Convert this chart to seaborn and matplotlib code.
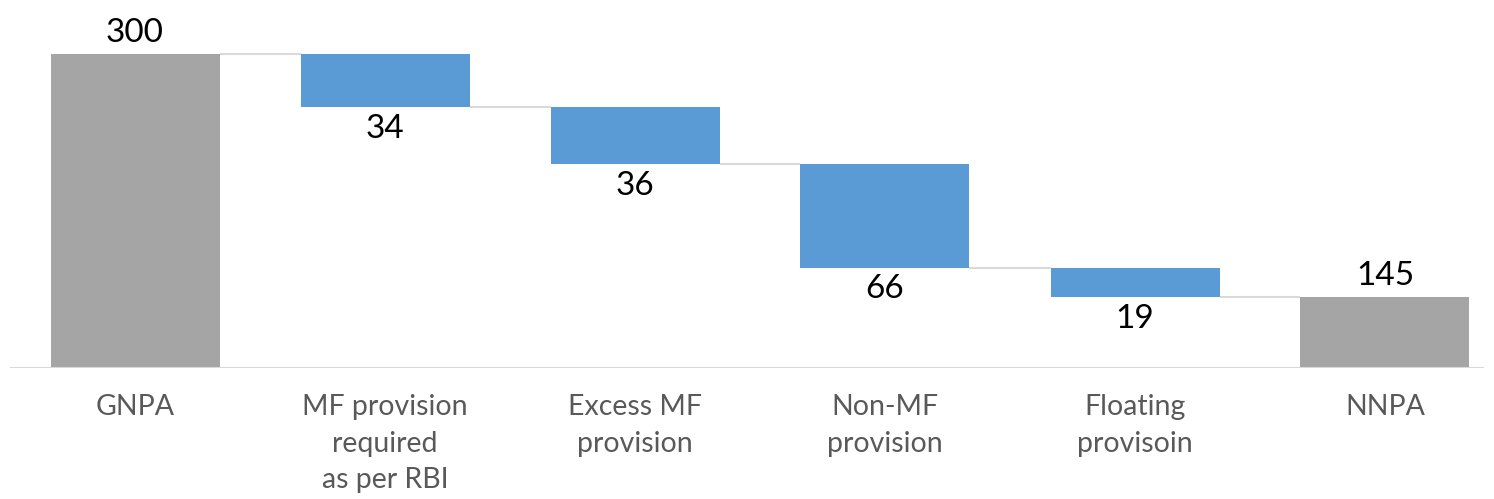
import numpy as np
import pandas as pd
import matplotlib.pyplot as plt
import seaborn as sns

# categories and values (bar heights; labels as printed)
categories = ["GNPA", "MF provision\nrequired\nas per RBI", "Excess MF\nprovision",
              "Non-MF\nprovision", "Floating\nprovisoin", "NNPA"]
start_total = 300
drops = [51, 54, 99, 28]
value_labels = ["300", "34", "36", "66", "19", "145"]

# --- build the waterfall levels ---
levels = [start_total]
for d in drops:
    levels.append(levels[-1] - d)
end_total = levels[-1]

tops = [start_total] + levels[:-1] + [end_total]
bottoms = [0] + levels[1:] + [0]
kinds = ["total"] + ["drop"] * len(drops) + ["total"]

df = pd.DataFrame({"cat": categories, "top": tops, "bottom": bottoms, "kind": kinds})

colors = {"total": "#A5A5A5", "drop": "#5B9BD5"}
palette = [colors[k] for k in kinds]
line_col = "#D9D9D9"
bar_w = 0.676

sns.set_theme(style="white")
plt.rcParams["font.family"] = ["Lato", "DejaVu Sans"]

fig = plt.figure(figsize=(14.94, 4.99), dpi=100)
ax = fig.add_axes([10 / 1494, 131 / 499, 1474 / 1494, 335 / 499])

sns.barplot(data=df, x="cat", y="top", hue="cat", palette=palette, width=bar_w,
            saturation=1, linewidth=0, legend=False, ax=ax, zorder=2)
# white mask for the floating part
sns.barplot(data=df, x="cat", y="bottom", color="white", width=bar_w,
            saturation=1, linewidth=0, ax=ax, zorder=2)

# connectors
for i in range(len(categories) - 1):
    lvl = tops[i] if i == 0 else bottoms[i]
    ax.hlines(lvl, i + bar_w / 2, i + 1 - bar_w / 2, color=line_col, lw=1.5, zorder=1)

ax.axhline(0, color=line_col, lw=1.5, zorder=3)

# value labels
for i, lab in enumerate(value_labels):
    if kinds[i] == "total":
        ax.annotate(lab, (i, tops[i]), xytext=(0, 4), textcoords="offset points",
                    ha="center", va="bottom", fontsize=24, color="black")
    else:
        ax.annotate(lab, (i, bottoms[i]), xytext=(0, -5), textcoords="offset points",
                    ha="center", va="top", fontsize=24, color="black")

ax.set_xlim(-0.5, 5.396)
ax.set_ylim(0, 320)
ax.set_yticks([])
ax.set_xlabel("")
ax.set_ylabel("")
for s in ax.spines.values():
    s.set_visible(False)
ax.tick_params(axis="x", length=0, pad=19, labelsize=20.5, labelcolor="#595959")
for t in ax.get_xticklabels():
    t.set_linespacing(1.5)
    t.set_va("top")

fig.savefig("out.png", dpi=100)
